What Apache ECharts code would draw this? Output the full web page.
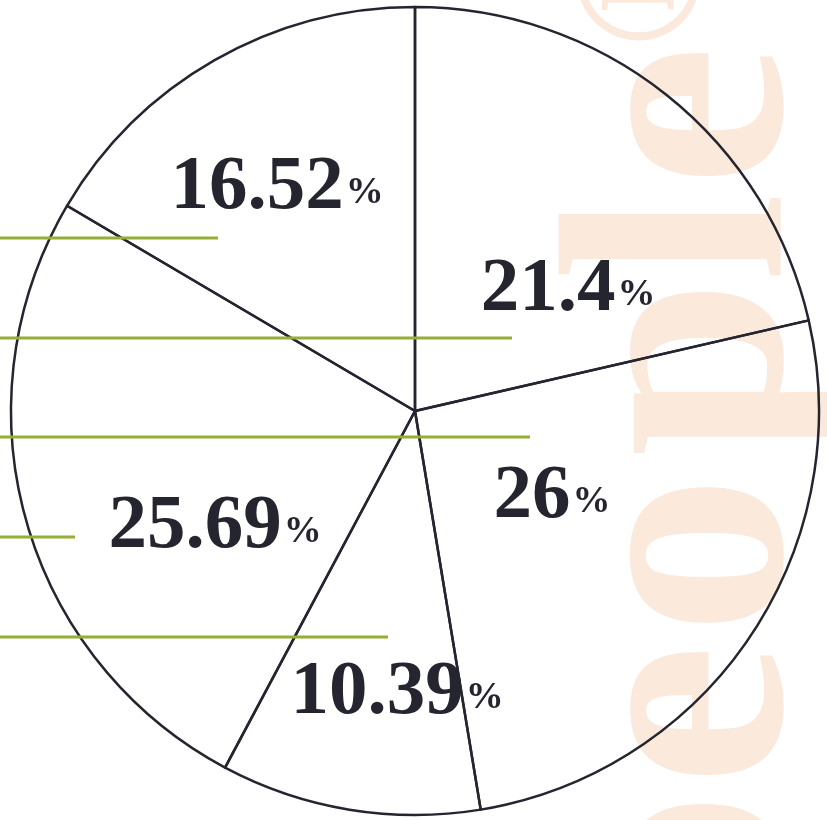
<!DOCTYPE html>
<html>
<head>
<meta charset="utf-8">
<script src="https://cdn.jsdelivr.net/npm/echarts@6/dist/echarts.min.js"></script>
<style>
html,body{margin:0;padding:0;background:#ffffff;}
#chart{width:827px;height:820px;}
</style>
</head>
<body>
<div id="chart"></div>
<script>
// Slice values (percent), clockwise from 12 o'clock
var sliceValues = [21.4, 26, 10.39, 25.69, 16.52];
var sliceNames = ['s1', 's2', 's3', 's4', 's5'];
// Label placement relative to pie centre (pixels), kept separate from data
var labelOffsets = [[153, -121], [137, 86], [-18, 282], [-200, 116], [-138, -223]];
// Decorative guide rules on the left: [y, length]
var guideRules = [[238, 218], [338, 512], [437, 530], [537, 75], [637, 388]];
// Background watermark letters (read bottom to top): [glyph, centre y, font size, x anchor]
var markGlyphs = [['p', 880, 320, 858], ['e', 715, 320, 858], ['o', 555, 320, 858], ['p', 368, 320, 858],
                  ['l', 237, 320, 858], ['e', 116, 320, 858], ['\u00ae', -20, 183, 742]];

var CX = 415, CY = 411, R = 404;
var ink = '#25252f';

var chart = echarts.init(document.getElementById('chart'), null, {renderer: 'canvas'});

var graphics = [];
markGlyphs.forEach(function (g) {
  graphics.push({
    type: 'text',
    x: g[3], y: g[1],
    rotation: Math.PI / 2,
    z: -10,
    silent: true,
    style: {
      text: g[0],
      font: 'bold ' + g[2] + 'px "Liberation Serif"',
      fill: '#fbe9dc',
      align: 'center',
      verticalAlign: 'bottom'
    }
  });
});
guideRules.forEach(function (g) {
  graphics.push({
    type: 'line',
    z: 100,
    silent: true,
    shape: {x1: 0, y1: g[0], x2: g[1], y2: g[0]},
    style: {stroke: '#94ae36', lineWidth: 3}
  });
});

chart.setOption({
  backgroundColor: '#ffffff',
  animation: false,
  graphic: graphics,
  series: [{
    type: 'pie',
    center: [CX, CY],
    radius: R,
    startAngle: 90,
    clockwise: true,
    silent: true,
    z: 2,
    itemStyle: {color: 'rgba(255,255,255,0)', borderColor: ink, borderWidth: 2.5},
    emphasis: {disabled: true},
    label: {
      show: true,
      position: 'inside',
      color: ink,
      formatter: function (p) { return '{n|' + p.value + '}{p|%}'; },
      rich: {
        n: {fontFamily: 'Liberation Serif', fontWeight: 'bold', fontSize: 77, color: ink, verticalAlign: 'bottom', lineHeight: 77},
        p: {fontFamily: 'Liberation Serif', fontWeight: 'bold', fontSize: 38, color: ink, verticalAlign: 'bottom', lineHeight: 38, padding: [0, 0, 14, 2]}
      }
    },
    labelLine: {show: false},
    labelLayout: function (params) {
      var o = labelOffsets[params.dataIndex];
      return {x: CX + o[0], y: CY + o[1], align: 'center', verticalAlign: 'middle'};
    },
    data: sliceValues.map(function (v, i) { return {name: sliceNames[i], value: v}; })
  }]
});
</script>
</body>
</html>
